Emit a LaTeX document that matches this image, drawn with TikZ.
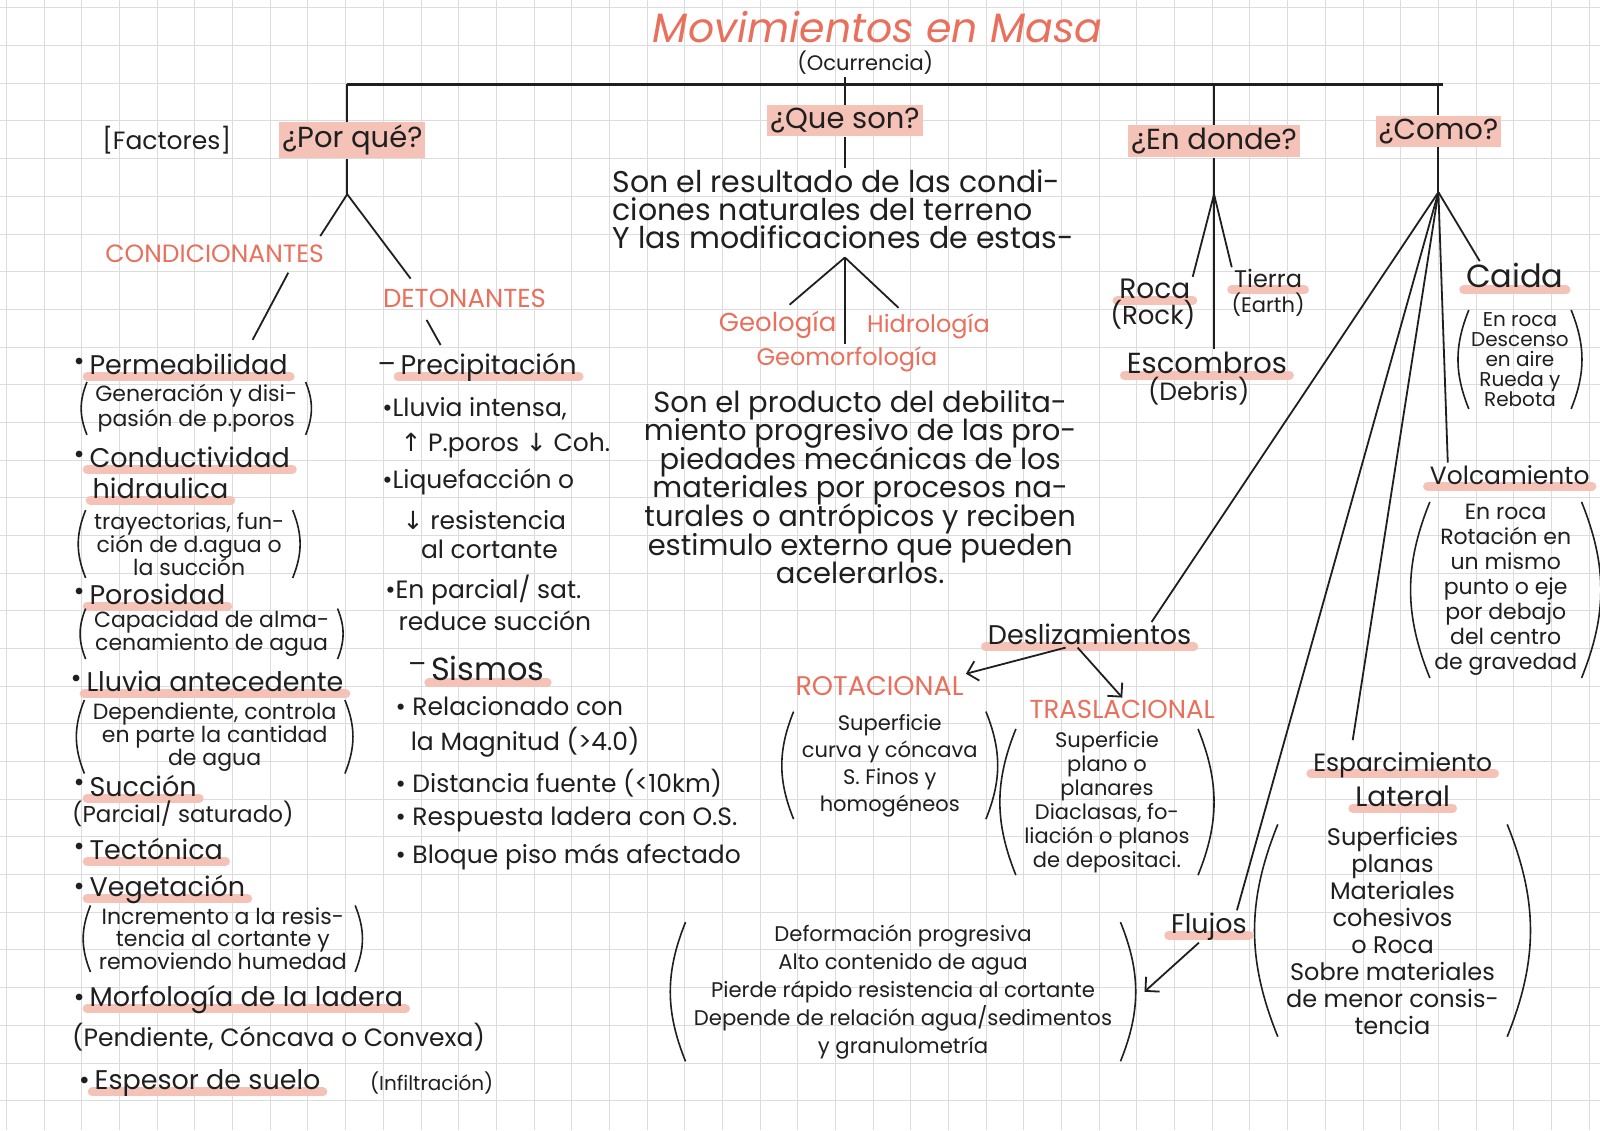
\documentclass[tikz,border=0pt]{standalone}
\usepackage{fontspec}
\setmainfont{Poppins}
\newfontfamily\symfont{DejaVu Sans}
\usetikzlibrary{positioning,arrows.meta,calc}
\definecolor{ink}{HTML}{1F1F1F}
\definecolor{salmon}{HTML}{E8705C}
\definecolor{hlpink}{HTML}{F5C2B7}
\definecolor{gridgray}{HTML}{DCDCDC}
\pgfdeclarelayer{bg}
\pgfsetlayers{bg,main}
\newcommand{\arrup}{{\symfont ↑}}
\newcommand{\arrdn}{{\symfont ↓}}

\begin{document}
\begin{tikzpicture}[x=0.51pt,y=-0.51pt,>={Straight Barb[length=5pt]},
   every node/.style={inner sep=1pt,text=ink,execute at begin node={\lineskiplimit=-20pt}},
   sz/.style={font=\fontsize{#1}{#1}\selectfont},
   hd/.style={sz=13.5},
   item/.style={hd,anchor=west},
   det/.style={sz=12.5,anchor=west},
   note/.style={sz=11,anchor=west},
   desc/.style={align=center,inner xsep=4pt},
   para/.style={font=\fontsize{15}{14}\selectfont},
   redtxt/.style={text=salmon,sz=13},
   qbox/.style={fill=hlpink,sz=14.5,inner sep=1.5pt},
   bul/.style={inner sep=1pt,sz=13.5},
   link/.style={draw=ink,line width=0.9pt},
   paren/.style={draw=ink,line width=0.8pt},
   hl/.style={draw=hlpink,line width=4.5pt,line cap=round}]
  % sheet
  \begin{pgfonlayer}{bg}
    \fill[white] (0,0) rectangle (1568,1108);
    \foreach \i in {0,...,42} \draw[gridgray,line width=0.5pt] ({5.9+36.95*\i},0) -- ++(0,1108);
    \foreach \j in {0,...,29} \draw[gridgray,line width=0.5pt] (0,{7.3+36.95*\j}) -- ++(1568,0);
  \end{pgfonlayer}
  \useasboundingbox (0,0) rectangle (1568,1108);

  % title
  \node[text=salmon,font=\fontsize{20.5}{20.5}\selectfont\itshape] (title) at (860,26) {Movimientos en Masa};
  \node[sz=10.5] (ocurr) at (848,61) {(Ocurrencia)};
  \coordinate (barl) at (340,82);
  \coordinate (barr) at (1415,82);
  \draw[link,line width=1.6pt] (barl) -- (barr);

  % questions
  \node[sz=12.5] (fact) at (163,137) {[Factores]};
  \node[qbox] (porque) at (345,137) {¿Por qué?};
  \node[qbox] (queson) at (828,118) {¿Que son?};
  \node[qbox] (donde) at (1190,138) {¿En donde?};
  \node[qbox] (como) at (1410,128) {¿Como?};
  \draw[link] (barl) -- (barl |- porque.north);
  \draw[link] (queson.north) -- (queson.north |- ocurr.south);
  \draw[link] (donde.north) -- (donde.north |- barl);
  \draw[link] (como.north) -- (como.north |- barr);

  % por que
  \coordinate (pq) at (340,190);
  \node[redtxt,sz=12.5] (cond) at (210,248) {CONDICIONANTES};
  \node[redtxt] (deto) at (455,292) {DETONANTES};

  \node[item,label={[bul]left:•}] (perm) at (85,357) {Permeabilidad};
  \node[desc,font=\fontsize{11}{12.5}\selectfont] (permd) at (192,400) {Generación y disi-\\pasión de p.poros};
  \node[item,label={[bul]left:•}] (cond1) at (85,448) {Conductividad};
  \node[item] (cond2) at (88,478) {hidraulica};
  \node[desc,font=\fontsize{11}{11.5}\selectfont] (condd) at (185,533) {trayectorias, fun-\\ción de d.agua o\\la succión};
  \node[item,label={[bul]left:•}] (poro) at (85,582) {Porosidad};
  \node[desc,font=\fontsize{11}{11.5}\selectfont] (porod) at (207,621) {Capacidad de alma-\\cenamiento de agua};
  \node[item,label={[bul]left:•}] (lluv) at (82,668) {Lluvia antecedente};
  \node[desc,font=\fontsize{11}{11.5}\selectfont] (lluvd) at (210,722) {Dependiente, controla\\en parte la cantidad\\de agua};
  \node[item,label={[bul]left:•}] (succ) at (85,770) {Succión};
  \node[note,sz=11.5] (succd) at (68,798) {(Parcial/ saturado)};
  \node[item,label={[bul]left:•}] (tect) at (85,832) {Tectónica};
  \node[item,label={[bul]left:•}] (vege) at (85,872) {Vegetación};
  \node[desc,font=\fontsize{11}{11.2}\selectfont] (veged) at (218,920) {Incremento a la resis-\\tencia al cortante y\\removiendo humedad};
  \node[item,label={[bul]left:•}] (morf) at (85,980) {Morfología de la ladera};
  \node[note,sz=12.5] (morfd) at (68,1017) {(Pendiente, Cóncava o Convexa)};
  \node[item,label={[bul]left:•}] (espe) at (90,1062) {Espesor de suelo};
  \node[note,sz=10] (infil) at (360,1062) {(Infiltración)};

  \node[item,label={[bul]left:–}] (precip) at (390,360) {Precipitación};
  \node[det] (pr1) at (372,400) {•Lluvia intensa,};
  \node[det] (pr2) at (390,436) {\arrup\ P.poros \arrdn\ Coh.};
  \node[det] (pr3) at (372,472) {•Liquefacción o};
  \node[det] (pr4) at (392,510) {\arrdn\ resistencia};
  \node[det] (pr5) at (410,538) {al cortante};
  \node[det] (pr6) at (375,578) {•En parcial/ sat.};
  \node[det] (pr7) at (388,608) {reduce succión};
  \node[item,sz=16,label={[bul]left:–}] (sism) at (420,655) {Sismos};
  \node[det] (si1) at (385,692) {• Relacionado con};
  \node[det] (si2) at (400,727) {la Magnitud (>4.0)};
  \node[det] (si3) at (385,767) {• Distancia fuente (<10km)};
  \node[det] (si4) at (385,803) {• Respuesta ladera con O.S.};
  \node[det] (si5) at (385,840) {• Bloque piso más afectado};

  \draw[link] (porque.south -| pq) -- (pq);
  \draw[link] (pq) -- ([xshift=-3pt,yshift=3pt]cond.north east);
  \draw[link] ([xshift=-19pt,yshift=-4pt]cond.south east) -- ([xshift=32pt,yshift=6pt]perm.north);
  \draw[link] (pq) -- ([xshift=15pt,yshift=4pt]deto.north west);
  \draw[link] ([xshift=23pt,yshift=-5pt]deto.south west) -- ([xshift=-24pt,yshift=3pt]precip.north);

  % que son
  \node[para,align=left,anchor=west] (res) at (598,205) {Son el resultado de las condi-\\ciones naturales del terreno\\Y las modificaciones de estas-};
  \coordinate (qs) at (828,252);
  \node[redtxt] (geol) at (762,318) {Geología};
  \node[redtxt,sz=12] (hidr) at (910,320) {Hidrología};
  \node[redtxt,sz=12] (geom) at (830,352) {Geomorfología};
  \node[para,align=center,font=\fontsize{14.5}{14.3}\selectfont] (prod) at (843,477) {Son el producto del debilita-\\miento progresivo de las pro-\\piedades mecánicas de los\\materiales por procesos na-\\turales o antrópicos y reciben\\estimulo externo que pueden\\acelerarlos.};
  \draw[link] (queson.south) -- (queson.south |- res.north);
  \draw[link] (qs) -- ([xshift=6pt,yshift=2pt]geol.north);
  \draw[link] (qs) -- (geom.north -| qs);
  \draw[link] (qs) -- ([xshift=-15pt,yshift=2pt]hidr.north);

  % en donde
  \coordinate (dq) at (1190,190);
  \node[sz=14] (roca) at (1132,283) {Roca};
  \node[sz=13] (rocad) at (1130,308) {(Rock)};
  \node[sz=12] (tier) at (1243,273) {Tierra};
  \node[sz=10.5] (tierd) at (1243,298) {(Earth)};
  \node[sz=14.5] (esco) at (1183,355) {Escombros};
  \node[sz=12.5] (escod) at (1175,383) {(Debris)};
  \draw[link] (donde.south) -- (dq);
  \draw[link] (dq) -- (roca.north east);
  \draw[link] (dq) -- (esco.north -| dq);
  \draw[link] (dq) -- (tier.north west);

  % como
  \coordinate (cq) at (1410,188);
  \node[sz=16] (caid) at (1485,270) {Caida};
  \node[desc,inner xsep=1pt,font=\fontsize{10}{10}\selectfont] (caidd) at (1490,352) {En roca\\Descenso\\en aire\\Rueda y\\Rebota};
  \node[sz=12.5] (volc) at (1480,465) {Volcamiento};
  \node[desc,inner xsep=2pt,font=\fontsize{11}{12.5}\selectfont] (volcd) at (1476,578) {En roca\\Rotación en\\un mismo\\punto o eje\\por debajo\\del centro\\de gravedad};
  \node[hd] (desl) at (1068,622) {Deslizamientos};
  \node[redtxt,sz=13.5] (rot) at (862,672) {ROTACIONAL};
  \node[desc,font=\fontsize{10.5}{13.5}\selectfont] (rotd) at (872,750) {Superficie\\curva y cóncava\\S. Finos y\\homogéneos};
  \node[redtxt] (tras) at (1100,695) {TRASLACIONAL};
  \node[desc,font=\fontsize{10.5}{12}\selectfont] (trasd) at (1085,786) {Superficie\\plano o\\planares\\Diaclasas, fo-\\liación o planos\\de depositaci.};
  \node[hd] (fluj) at (1185,908) {Flujos};
  \node[desc,font=\fontsize{10.6}{14}\selectfont] (flujd) at (885,972) {Deformación progresiva\\Alto contenido de agua\\Pierde rápido resistencia al cortante\\Depende de relación agua/sedimentos\\y granulometría};
  \node[sz=12.5] (esp1) at (1375,750) {Esparcimiento};
  \node[sz=14] (esp2) at (1375,780) {Lateral};
  \node[desc,font=\fontsize{12}{13.5}\selectfont] (espd) at (1365,912) {Superficies\\planas\\Materiales\\cohesivos\\o Roca\\Sobre materiales\\de menor consis-\\tencia};
  \draw[link] (como.south) -- (cq);
  \draw[link] (cq) -- ([xshift=8pt]caid.north west);
  \draw[link] (cq) -- ([xshift=-31pt]volc.north);
  \draw[link] (cq) -- ([xshift=31pt]desl.north);
  \draw[link] (cq) -- ([xshift=14pt]fluj.north);
  \draw[link] (cq) -- ([xshift=-25pt,yshift=5pt]esp1.north);
  \draw[link,->] ([xshift=-12pt]desl.south) -- (rot.north east);
  \draw[link,->] ([xshift=-6pt]desl.south) -- (tras.north);
  \draw[link,->] ([xshift=-5pt]fluj.south) -- ([xshift=12pt]flujd.east);

  % brackets round the notes
  \foreach \n in {permd,condd,porod,lluvd,veged,caidd,volcd,rotd,trasd,flujd,espd} {
    \draw[paren] (\n.north west) to[bend right=22] (\n.south west);
    \draw[paren] (\n.north east) to[bend left=22] (\n.south east);
  }

  % marker strokes
  \begin{pgfonlayer}{bg}
    \foreach \n in {perm,cond1,cond2,poro,lluv,succ,tect,vege,morf,espe,precip,sism,roca,tier,esco,caid,volc,desl,fluj,esp1,esp2}
      \draw[hl] ([yshift=-1pt]\n.base west) -- ([yshift=-1pt]\n.base east);
  \end{pgfonlayer}
\end{tikzpicture}
\end{document}
